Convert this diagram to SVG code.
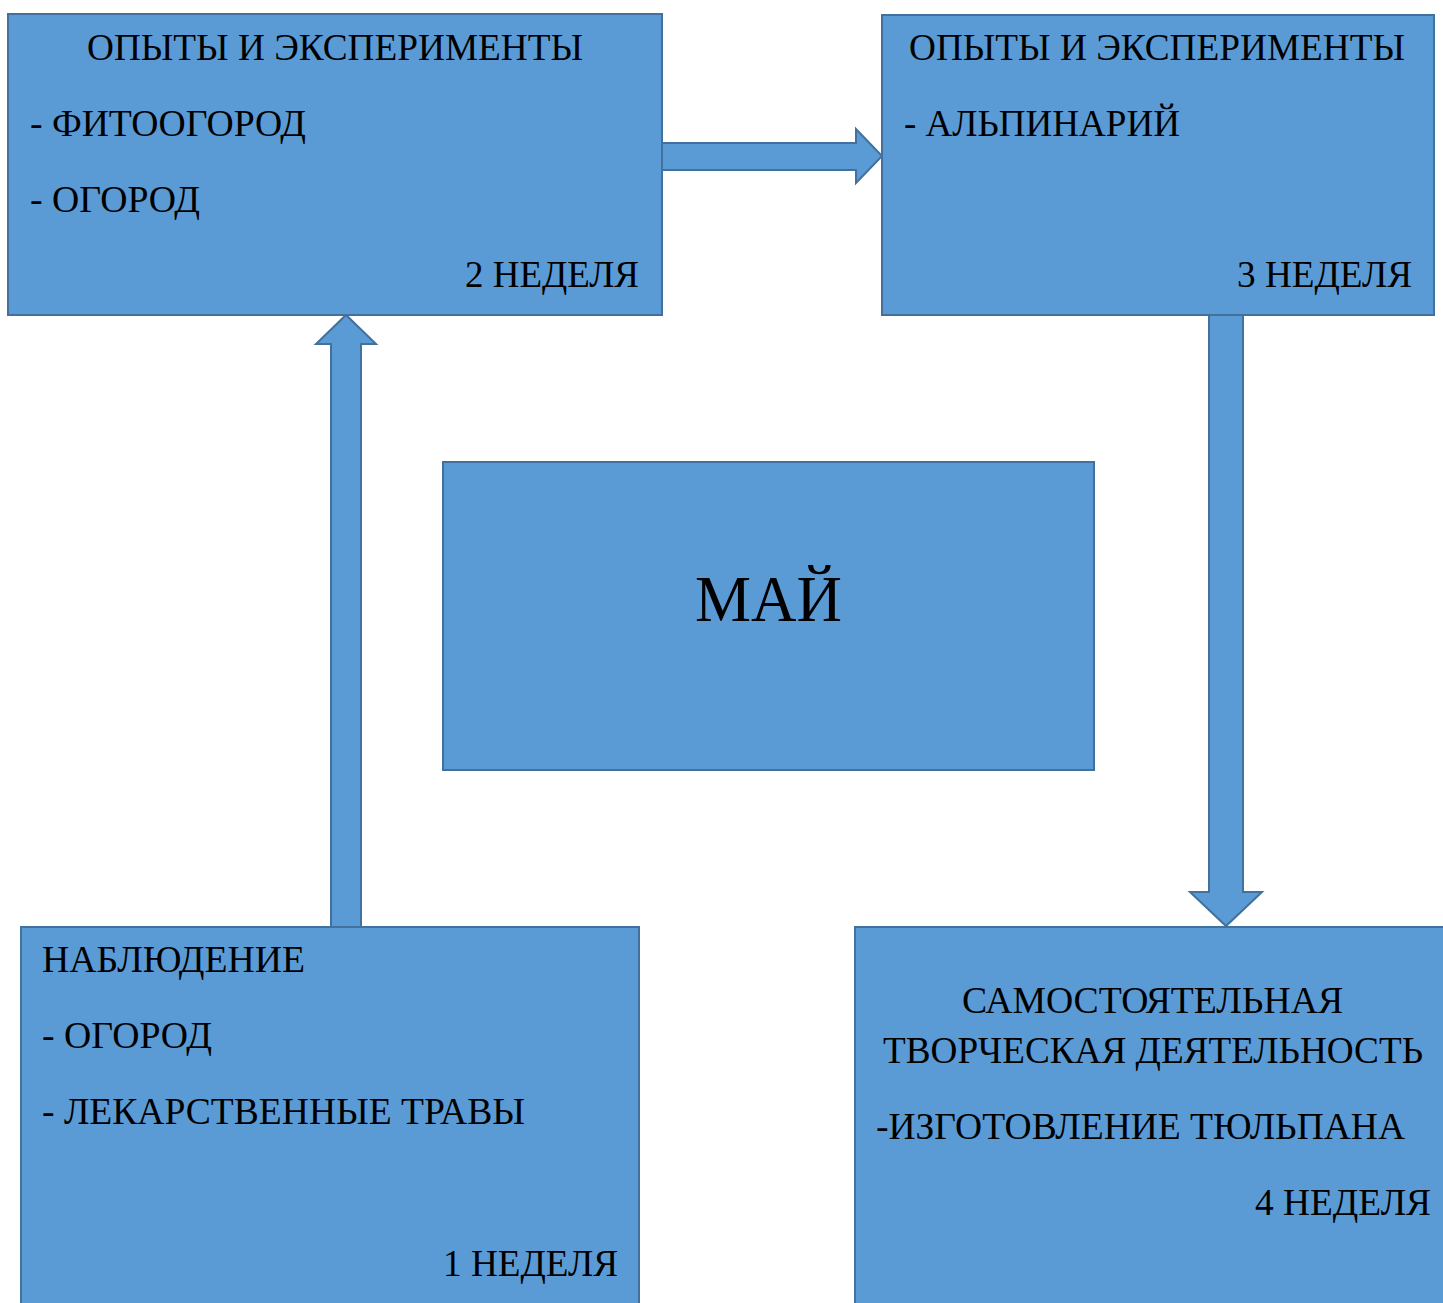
<svg xmlns="http://www.w3.org/2000/svg" width="1443" height="1303" viewBox="0 0 1443 1303">
  <style>
    .box { fill: #5B9BD5; stroke: #41719C; stroke-width: 2; }
    .arrow { fill: #5B9BD5; stroke: #41719C; stroke-width: 2; stroke-linejoin: miter; }
    .t { font-family: 'Liberation Serif', 'Times New Roman', serif; font-size: 38px; fill: #000; }
    .big { font-size: 65px; }
  </style>
  <rect width="1443" height="1303" fill="#FFFFFF"/>

  <!-- connectors: block arrows between the weeks -->
  <g id="connectors">
    <polygon class="arrow" points="662,143 856,143 856,129 882,156 856,183 856,170 662,170"/>
    <polygon class="arrow" points="331,927 331,344 316,344 346,315 376,344 361,344 361,927"/>
    <polygon class="arrow" points="1209,315 1243,315 1243,892 1262,892 1226,926 1190,892 1209,892"/>
  </g>

  <!-- week 2 -->
  <g id="week2">
    <rect class="box" x="8" y="14" width="654" height="301"/>
    <text class="t" x="87" y="60" textLength="496" lengthAdjust="spacingAndGlyphs">ОПЫТЫ И ЭКСПЕРИМЕНТЫ</text>
    <text class="t" x="30" y="136" textLength="276" lengthAdjust="spacingAndGlyphs">- ФИТООГОРОД</text>
    <text class="t" x="30" y="212" textLength="170" lengthAdjust="spacingAndGlyphs">- ОГОРОД</text>
    <text class="t" x="465" y="287" textLength="174" lengthAdjust="spacingAndGlyphs">2 НЕДЕЛЯ</text>
  </g>

  <!-- week 3 -->
  <g id="week3">
    <rect class="box" x="882" y="15" width="552" height="300"/>
    <text class="t" x="909" y="60" textLength="496" lengthAdjust="spacingAndGlyphs">ОПЫТЫ И ЭКСПЕРИМЕНТЫ</text>
    <text class="t" x="904" y="136" textLength="276" lengthAdjust="spacingAndGlyphs">- АЛЬПИНАРИЙ</text>
    <text class="t" x="1237" y="287" textLength="175" lengthAdjust="spacingAndGlyphs">3 НЕДЕЛЯ</text>
  </g>

  <!-- month -->
  <g id="month">
    <rect class="box" x="443" y="462" width="651" height="308"/>
    <text class="t big" x="695" y="621" textLength="147" lengthAdjust="spacingAndGlyphs">МАЙ</text>
  </g>

  <!-- week 1 -->
  <g id="week1">
    <rect class="box" x="21" y="927" width="618" height="390"/>
    <text class="t" x="42" y="972" textLength="263" lengthAdjust="spacingAndGlyphs">НАБЛЮДЕНИЕ</text>
    <text class="t" x="42" y="1048" textLength="170" lengthAdjust="spacingAndGlyphs">- ОГОРОД</text>
    <text class="t" x="42" y="1124" textLength="483" lengthAdjust="spacingAndGlyphs">- ЛЕКАРСТВЕННЫЕ ТРАВЫ</text>
    <text class="t" x="443" y="1276" textLength="175" lengthAdjust="spacingAndGlyphs">1 НЕДЕЛЯ</text>
  </g>

  <!-- week 4 -->
  <g id="week4">
    <rect class="box" x="855" y="927" width="600" height="390"/>
    <text class="t" x="962" y="1013" textLength="381" lengthAdjust="spacingAndGlyphs">САМОСТОЯТЕЛЬНАЯ</text>
    <text class="t" x="883" y="1063" textLength="540" lengthAdjust="spacingAndGlyphs">ТВОРЧЕСКАЯ ДЕЯТЕЛЬНОСТЬ</text>
    <text class="t" x="876" y="1139" textLength="529" lengthAdjust="spacingAndGlyphs">-ИЗГОТОВЛЕНИЕ ТЮЛЬПАНА</text>
    <text class="t" x="1255" y="1215" textLength="176" lengthAdjust="spacingAndGlyphs">4 НЕДЕЛЯ</text>
  </g>
</svg>
